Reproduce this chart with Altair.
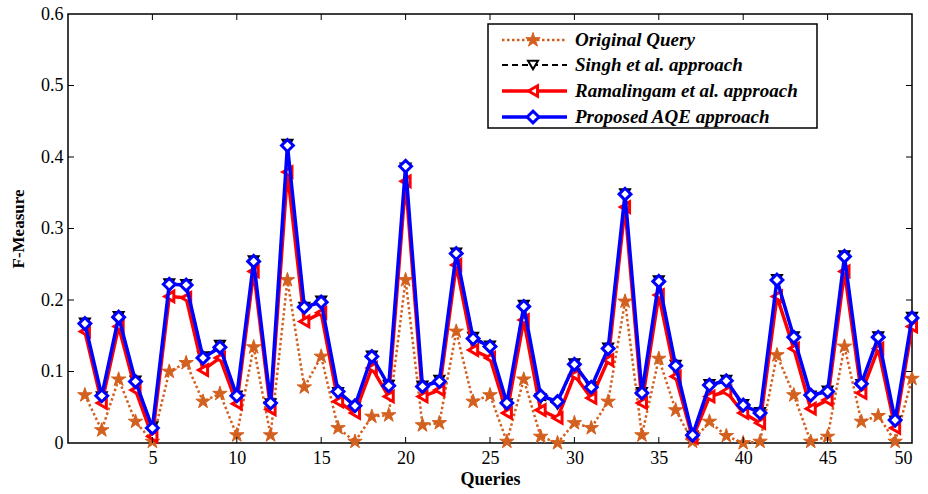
import altair as alt
import pandas as pd

queries = list(range(1, 51))
original = [0.067, 0.018, 0.089, 0.030, 0.002, 0.100, 0.112, 0.058, 0.069, 0.011,
            0.134, 0.011, 0.228, 0.078, 0.121, 0.021, 0.002, 0.037, 0.039, 0.228,
            0.025, 0.028, 0.156, 0.058, 0.067, 0.002, 0.089, 0.009, 0.000, 0.028,
            0.021, 0.058, 0.198, 0.011, 0.118, 0.046, 0.002, 0.030, 0.010, 0.000,
            0.002, 0.123, 0.067, 0.002, 0.009, 0.135, 0.030, 0.038, 0.002, 0.090]
singh = [0.168, 0.065, 0.177, 0.087, 0.023, 0.223, 0.222, 0.121, 0.137, 0.066,
         0.255, 0.055, 0.418, 0.190, 0.199, 0.071, 0.051, 0.122, 0.081, 0.385,
         0.080, 0.088, 0.266, 0.148, 0.136, 0.055, 0.193, 0.062, 0.054, 0.111,
         0.079, 0.133, 0.349, 0.071, 0.227, 0.109, 0.010, 0.082, 0.088, 0.054,
         0.043, 0.229, 0.149, 0.066, 0.073, 0.262, 0.082, 0.149, 0.031, 0.176]
ramalingam = [0.156, 0.056, 0.163, 0.074, 0.009, 0.205, 0.203, 0.102, 0.119, 0.055,
              0.240, 0.047, 0.379, 0.170, 0.182, 0.058, 0.042, 0.105, 0.065, 0.366,
              0.065, 0.074, 0.249, 0.130, 0.119, 0.042, 0.172, 0.046, 0.035, 0.095,
              0.063, 0.116, 0.330, 0.056, 0.207, 0.093, 0.007, 0.065, 0.072, 0.042,
              0.028, 0.205, 0.132, 0.048, 0.060, 0.240, 0.070, 0.132, 0.021, 0.163]
proposed = [0.167, 0.066, 0.176, 0.086, 0.021, 0.222, 0.221, 0.119, 0.134, 0.066,
            0.254, 0.056, 0.416, 0.190, 0.197, 0.072, 0.052, 0.121, 0.080, 0.387,
            0.079, 0.086, 0.265, 0.146, 0.135, 0.056, 0.191, 0.066, 0.058, 0.110,
            0.078, 0.132, 0.348, 0.070, 0.226, 0.108, 0.011, 0.081, 0.087, 0.053,
            0.042, 0.228, 0.148, 0.067, 0.072, 0.261, 0.083, 0.148, 0.032, 0.175]

series_keys = ["orig", "singh", "rama", "prop"]
series_names = ["Original Query", "Singh et al. approach",
                "Ramalingam et al. approach", "Proposed AQE approach"]
x_tick_values = [5, 10, 15, 20, 25, 30, 35, 40, 45, 50]
inner_x_ticks = [5, 10, 15, 20, 25, 30, 35, 40, 45]
y_tick_values = [0, 0.1, 0.2, 0.3, 0.4, 0.5, 0.6]
inner_y_ticks = [0.1, 0.2, 0.3, 0.4, 0.5]

W, H = 844, 429
SERIF = "Liberation Serif"
STAR = ("M0,-1L0.2245,-0.309L0.951,-0.309L0.363,0.118L0.588,0.809L0,0.382"
        "L-0.588,0.809L-0.363,0.118L-0.951,-0.309L-0.2245,-0.309Z")

styles = {
    "orig": dict(color="#D4601F", dash=[2.5, 2.5], width=2.5, shape=STAR, size=230, filled=True, sw=1),
    "singh": dict(color="#000000", dash=[6, 4], width=2, shape="triangle-down", size=100, filled=False, sw=2),
    "rama": dict(color="#FF0000", dash=[], width=3.5, shape="triangle-left", size=110, filled=False, sw=3),
    "prop": dict(color="#0000FF", dash=[], width=3.5, shape="diamond", size=140, filled=False, sw=3),
}

df = pd.DataFrame({
    "q": queries,
    "orig": original,
    "singh": singh,
    "rama": ramalingam,
    "prop": proposed,
})

x_axis = alt.Axis(values=x_tick_values, title="Queries", ticks=False, tickSize=0,
                  domain=False, grid=False, labelPadding=6, titlePadding=3,
                  labelFont=SERIF, labelFontSize=18, labelColor="black",
                  titleFont=SERIF, titleFontSize=18, titleFontWeight="bold",
                  titleColor="black")
y_axis = alt.Axis(values=y_tick_values, format=".1~f", title="F-Measure",
                  ticks=False, tickSize=0, domain=False, grid=False,
                  labelPadding=5, titlePadding=13,
                  labelFont=SERIF, labelFontSize=18, labelColor="black",
                  titleFont=SERIF, titleFontSize=17, titleFontWeight="bold",
                  titleColor="black")
x_scale = alt.Scale(domain=[0, 50], nice=False)
y_scale = alt.Scale(domain=[0, 0.6], nice=False)

x_enc = alt.X("q:Q", scale=x_scale, axis=x_axis, title="Queries")
y_enc = alt.Y("value:Q", scale=y_scale, axis=y_axis, title="F-Measure")

base = alt.Chart(df).transform_fold(series_keys, as_=["series", "value"])


def line_kwargs(s):
    kw = dict(color=s["color"], strokeWidth=s["width"])
    if s["dash"]:
        kw["strokeDash"] = s["dash"]
    return kw


def point_kwargs(s):
    return dict(shape=s["shape"], size=s["size"], filled=True,
                fill=s["color"] if s["filled"] else "white",
                stroke=s["color"], strokeWidth=s["sw"], opacity=1)


layers = []
for key in series_keys:
    s = styles[key]
    sub = base.transform_filter(alt.datum.series == key)
    layers.append(sub.mark_line(**line_kwargs(s)).encode(x=x_enc, y=y_enc, order="q:Q"))
    layers.append(sub.mark_point(**point_kwargs(s)).encode(x=x_enc, y=y_enc))

# inward ticks (MATLAB style box)
xt = alt.Chart(pd.DataFrame({"t": inner_x_ticks}))
yt = alt.Chart(pd.DataFrame({"t": inner_y_ticks}))
xs = alt.X("t:Q", scale=x_scale, axis=x_axis, title="Queries")
ys = alt.Y("t:Q", scale=y_scale, axis=y_axis, title="F-Measure")
tick_layers = [
    xt.mark_rule(color="black", strokeWidth=1).encode(x=xs, y=alt.value(H), y2=alt.value(H - 6)),
    xt.mark_rule(color="black", strokeWidth=1).encode(x=xs, y=alt.value(0), y2=alt.value(6)),
    yt.mark_rule(color="black", strokeWidth=1).encode(y=ys, x=alt.value(0), x2=alt.value(6)),
    yt.mark_rule(color="black", strokeWidth=1).encode(y=ys, x=alt.value(W), x2=alt.value(W - 6)),
]

# legend
one = alt.Chart(pd.DataFrame({"a": [0]}))
lx0, lx1, ly0, ly1 = 420, 749, 10, 114
legend_layers = [
    one.mark_rect(fill="white", stroke="black", strokeWidth=1.5).encode(
        x=alt.value(lx0), x2=alt.value(lx1), y=alt.value(ly0), y2=alt.value(ly1))
]
row_y = [26, 51, 77, 103]
for key, name, ry in zip(series_keys, series_names, row_y):
    s = styles[key]
    legend_layers.append(one.mark_rule(**line_kwargs(s))
                         .encode(x=alt.value(434), x2=alt.value(499), y=alt.value(ry)))
    legend_layers.append(one.mark_point(**point_kwargs(s))
                         .encode(x=alt.value(465), y=alt.value(ry)))
    legend_layers.append(one.mark_text(text=name, align="left", baseline="middle", font=SERIF,
                                       fontSize=19, fontStyle="italic", fontWeight="bold",
                                       color="black")
                         .encode(x=alt.value(507), y=alt.value(ry)))

chart = alt.layer(*layers, *tick_layers, *legend_layers).properties(
    width=W, height=H,
    autosize=alt.AutoSizeParams(type="none"),
    padding={"left": 68, "top": 14, "right": 16, "bottom": 51},
    background="white",
).configure_view(stroke="black", strokeWidth=1.5)

chart.save("out.html", embed_options={"renderer": "svg", "actions": False})
